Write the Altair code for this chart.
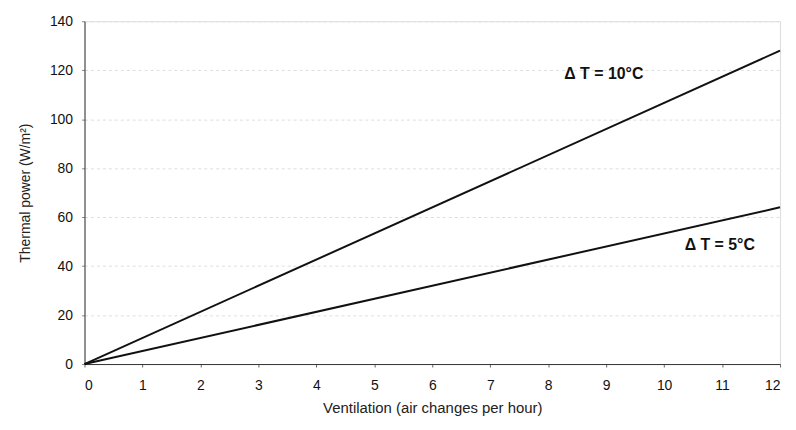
import altair as alt
import pandas as pd

# Data
ventilation = [0, 12]
power_dt10 = [0, 128]
power_dt5 = [0, 64]
series_names = ["Δ T = 10°C", "Δ T = 5°C"]

label_x = [8.96, 10.96]
label_y = [118.4, 48.6]

rows = []
for v, p in zip(ventilation, power_dt10):
    rows.append({"v": v, "p": p, "s": series_names[0]})
for v, p in zip(ventilation, power_dt5):
    rows.append({"v": v, "p": p, "s": series_names[1]})
df = pd.DataFrame(rows)
labels = pd.DataFrame({"x": label_x, "y": label_y, "t": series_names})

FONT = "Liberation Sans"

xenc = alt.X("v:Q", scale=alt.Scale(domain=[0, 12], nice=False),
             axis=alt.Axis(title="Ventilation (air changes per hour)", values=list(range(13)),
                           format="d", grid=False, tickSize=3, labelPadding=12, titlePadding=8,
                           domainColor="#333", tickColor="#666", labelFontSize=14,
                           titleFontSize=15, titleFontWeight="normal", labelColor="#111",
                           titleColor="#222", labelFont=FONT, titleFont=FONT))
yenc = alt.Y("p:Q", scale=alt.Scale(domain=[0, 140], nice=False),
             axis=alt.Axis(title="Thermal power (W/m²)", values=list(range(0, 141, 20)),
                           format="d", grid=True, gridColor="#dedede", gridDash=[3, 3], gridWidth=1,
                           tickSize=3, labelPadding=9, titlePadding=17,
                           domainColor="#333", tickColor="#888", labelFontSize=14,
                           titleFontSize=14, titleFontWeight="normal", labelColor="#111",
                           titleColor="#222", labelFont=FONT, titleFont=FONT))

lines = alt.Chart(df).mark_line(color="#111", strokeWidth=2).encode(
    x=xenc, y=yenc, detail="s:N")

text = alt.Chart(labels).mark_text(font=FONT, fontSize=16, fontWeight="bold", color="#111").encode(
    x=alt.X("x:Q"), y=alt.Y("y:Q"), text="t:N")

chart = alt.layer(lines, text).properties(
    width=700, height=345,
    autosize=alt.AutoSizeParams(type="none"),
    padding={"left": 77, "top": 12, "right": 8, "bottom": 58},
).configure_view(stroke="#777", strokeWidth=1.5).configure(background="white")

chart.save("out.html", embed_options={"renderer": "svg", "actions": False})
